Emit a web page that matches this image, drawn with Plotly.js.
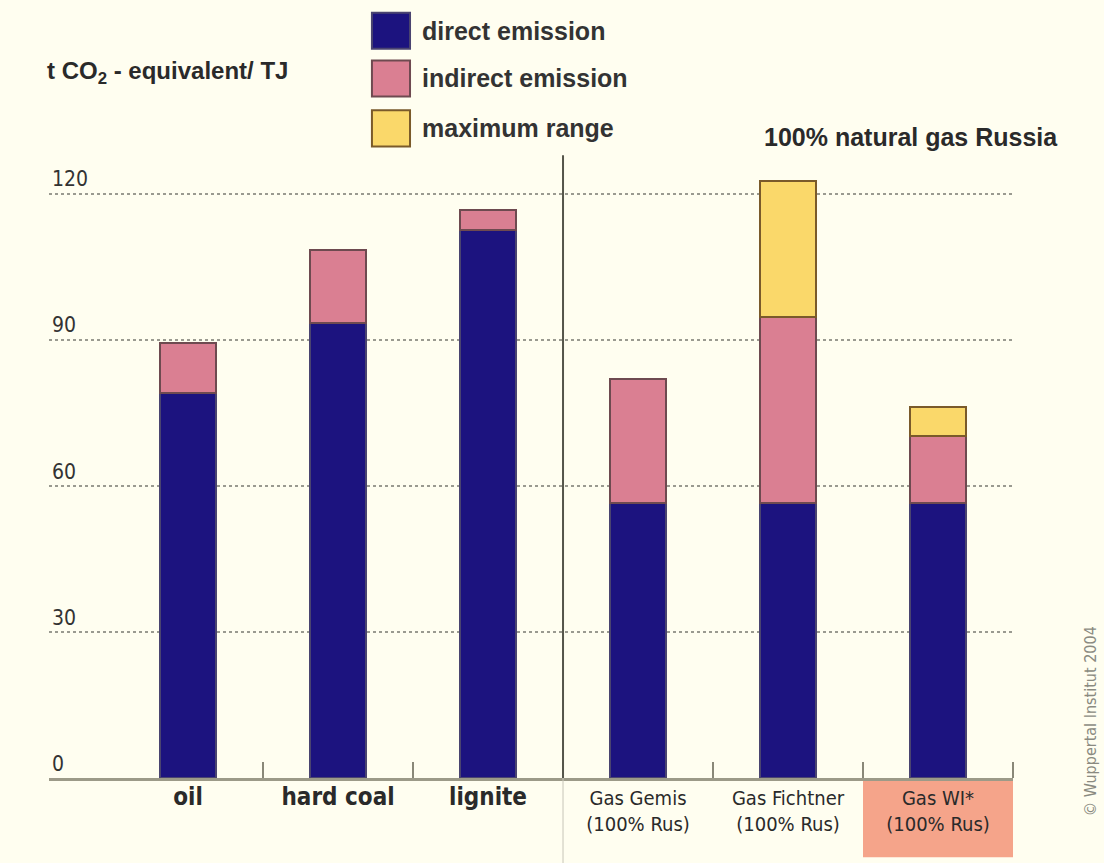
<!DOCTYPE html>
<html>
<head>
<meta charset="utf-8">
<script src="https://cdn.plot.ly/plotly-3.0.1.min.js"></script>
<style>
  html, body { margin: 0; padding: 0; background: #FFFEF0; }
  #chart { width: 1104px; height: 863px; }
</style>
</head>
<body>
<div id="chart"></div>
<script>
// ---- data ----
const categories = ["oil", "hard coal", "lignite", "Gas Gemis", "Gas Fichtner", "Gas WI*"];
const categoryLabels = [
  "<span style='font-size:24px'><b>oil</b></span>",
  "<span style='font-size:24px'><b>hard coal</b></span>",
  "<span style='font-size:24px'><b>lignite</b></span>",
  "Gas Gemis<br>(100% Rus)",
  "Gas Fichtner<br>(100% Rus)",
  "Gas WI*<br>(100% Rus)"
];
const directEmission   = [79.1, 93.5, 112.5, 56.5, 56.5, 56.5];
const indirectEmission = [10.3, 15.0, 4.1, 25.5, 38.2, 13.8];
const maximumRange     = [null, null, null, null, 27.9, 5.8];
const seriesNames  = ["direct emission", "indirect emission", "maximum range"];
const seriesColors = ["#1C137F", "#DA7F92", "#FAD86A"];
const seriesLines  = ["#4a4470", "#6e4a50", "#7a5a2a"];
const yTicks = [0, 30, 60, 90, 120];
const yAxisTitle = "t CO<sub>2</sub> - equivalent/ TJ";
const groupTitle = "100% natural gas Russia";
const credit = "© Wuppertal Institut 2004";

const xIdx = categories.map((_, i) => i);
const narrow = "'Liberation Sans Narrow', 'DejaVu Sans Condensed', 'Arial Narrow', sans-serif";
const sans = "'Liberation Sans', Arial, sans-serif";

const values = [directEmission, indirectEmission, maximumRange];
const traces = values.map((v, k) => ({
  type: "bar",
  name: seriesNames[k],
  x: xIdx,
  y: v,
  width: 0.37,
  marker: { color: seriesColors[k], line: { color: seriesLines[k], width: 2 } },
  showlegend: false,
  hoverinfo: "name+y"
}));

// custom legend (large swatches)
const legShapes = [];
const legAnn = [];
const legTop = [1.209, 1.1336, 1.0548];
seriesNames.forEach((n, k) => {
  legShapes.push({
    type: "rect", xref: "paper", yref: "paper",
    x0: 0.335, x1: 0.3745, y0: legTop[k] - 0.057, y1: legTop[k],
    fillcolor: seriesColors[k], line: { color: seriesLines[k], width: 2 }
  });
  legAnn.push({
    xref: "paper", yref: "paper", x: 0.385, y: legTop[k] - 0.0285,
    xanchor: "left", yanchor: "middle", showarrow: false,
    text: "<b>" + n + "</b>",
    font: { family: sans, size: 25, color: "#333" }
  });
});

const layout = {
  width: 1104, height: 863,
  paper_bgcolor: "#FFFEF0",
  plot_bgcolor: "#FFFEF0",
  margin: { l: 49, r: 91, t: 145, b: 85 },
  barmode: "stack",
  showlegend: false,
  xaxis: {
    range: [-0.927, 5.5],
    tickmode: "array",
    tickvals: xIdx,
    ticktext: categoryLabels,
    ticks: "",
    showgrid: false,
    zeroline: false,
    showline: true,
    linecolor: "#9c9a88",
    linewidth: 3,
    tickfont: { family: narrow, size: 20, color: "#2a2a2a" },
    minor: {
      tickmode: "array",
      tickvals: [0.5, 1.5, 2.5, 3.5, 4.5, 5.5],
      ticks: "inside",
      ticklen: 16,
      tickwidth: 2,
      tickcolor: "#8a8878",
      showgrid: false
    },
    fixedrange: true
  },
  yaxis: {
    range: [0, 130],
    tickmode: "array",
    tickvals: yTicks,
    ticks: "",
    ticklabelposition: "inside top",
    tickfont: { family: narrow, size: 21, color: "#333" },
    showgrid: true,
    gridcolor: "#9a9a90",
    gridwidth: 2,
    griddash: "dot",
    zeroline: false,
    showline: false,
    fixedrange: true
  },
  shapes: [
    // highlight box behind the WI label
    { type: "rect", xref: "x", yref: "paper", x0: 4.5, x1: 5.5, y0: -0.125, y1: 0,
      fillcolor: "#F5A48A", line: { width: 0 }, layer: "below" },
    // separator between fuels and gas variants
    { type: "line", xref: "x", yref: "paper", x0: 2.5, x1: 2.5, y0: 0, y1: 0.984,
      line: { color: "#55554a", width: 2 } },
    { type: "line", xref: "x", yref: "paper", x0: 2.5, x1: 2.5, y0: -0.14, y1: 0,
      line: { color: "#c8c6b8", width: 1 } }
  ].concat(legShapes),
  annotations: [
    { xref: "paper", yref: "paper", x: -0.004, y: 1.115, xanchor: "left", yanchor: "middle",
      showarrow: false, text: "<b>" + yAxisTitle + "</b>",
      font: { family: sans, size: 24, color: "#2a2a2a" } },
    { xref: "paper", yref: "paper", x: 1.049, y: 1.012, xanchor: "right", yanchor: "middle",
      showarrow: false, text: "<b>" + groupTitle + "</b>",
      font: { family: sans, size: 25, color: "#2a2a2a" } },
    { xref: "paper", yref: "paper", x: 1.08, y: 0.09, xanchor: "center", yanchor: "middle",
      showarrow: false, textangle: -90, text: credit,
      font: { family: narrow, size: 16, color: "#8a8a80" } }
  ].concat(legAnn)
};

Plotly.newPlot("chart", traces, layout, { displayModeBar: false, staticPlot: true });
</script>
</body>
</html>
